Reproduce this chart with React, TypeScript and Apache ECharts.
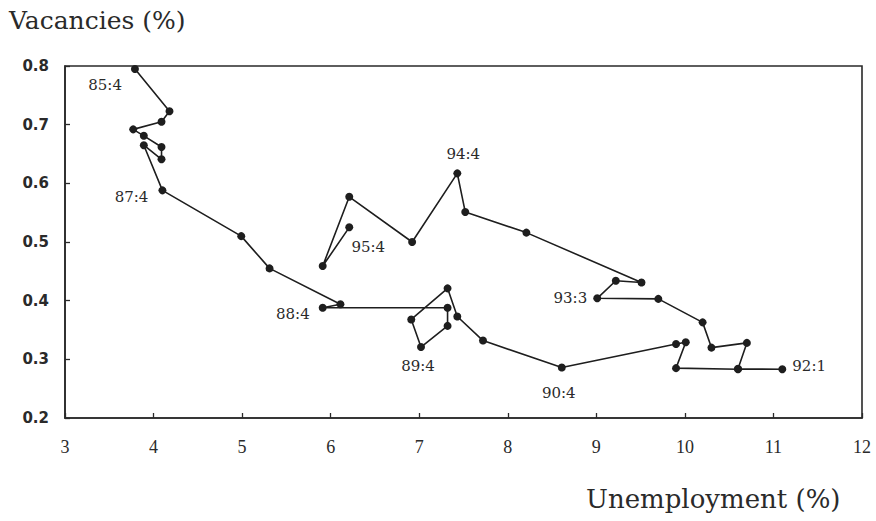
import React, { useEffect, useRef } from "react";
import * as echarts from "echarts";

// Unemployment (%) and vacancies (%) along the quarterly path, 85:4 -> 95:4
const unemployment = [
  3.79, 4.18, 4.09, 3.77, 3.89, 4.09, 4.09, 3.89, 4.10,
  4.99, 5.31, 6.11, 5.91,
  7.32, 7.32, 7.02, 6.91, 7.32, 7.43, 7.72, 8.61,
  9.90, 10.01, 9.90, 10.60, 11.10, 10.60, 10.70, 10.30, 10.20, 9.70, 9.01,
  9.22, 9.51, 8.21, 7.52, 7.43,
  6.92, 6.21, 5.91, 6.21,
];
const vacancies = [
  0.795, 0.723, 0.705, 0.692, 0.681, 0.662, 0.641, 0.665, 0.588,
  0.510, 0.455, 0.394, 0.388,
  0.388, 0.357, 0.321, 0.368, 0.421, 0.373, 0.332, 0.286,
  0.326, 0.329, 0.285, 0.283, 0.283, 0.284, 0.328, 0.320, 0.363, 0.403, 0.404,
  0.434, 0.431, 0.516, 0.551, 0.617,
  0.500, 0.577, 0.459, 0.525,
];
// quarter labels shown next to some points ('' = no label)
const pointLabels = [
  "85:4", "", "", "", "", "", "", "", "87:4",
  "", "", "", "88:4",
  "", "", "89:4", "", "", "", "", "90:4",
  "", "", "", "", "92:1", "", "", "", "", "", "93:3",
  "", "", "", "", "94:4",
  "", "", "", "95:4",
];
const xTicks = { min: 3, max: 12, interval: 1 };
const yTicks = { min: 0.2, max: 0.8, interval: 0.1 };

const labelStyle: Record<string, { position: string; distance: number; dx: number; dy: number }> = {
  "85:4": { position: "left", distance: 9, dx: 0, dy: 16 },
  "87:4": { position: "left", distance: 10, dx: 0, dy: 7 },
  "88:4": { position: "left", distance: 9, dx: 0, dy: 6 },
  "89:4": { position: "bottom", distance: 7, dx: -3, dy: 0 },
  "90:4": { position: "bottom", distance: 14, dx: -3, dy: 0 },
  "92:1": { position: "right", distance: 6, dx: 0, dy: -3 },
  "93:3": { position: "left", distance: 6, dx: 0, dy: 0 },
  "94:4": { position: "top", distance: 8, dx: 6, dy: 0 },
  "95:4": { position: "bottom", distance: 8, dx: 19, dy: 0 },
};

const serif = "DejaVu Serif";
const ink = "#1e1e1e";

export default function App() {
  const ref = useRef<HTMLDivElement>(null);
  useEffect(() => {
    if (!ref.current) return;
    const chart = echarts.init(ref.current, undefined, { renderer: "svg" });
    const data = unemployment.map((u, i) => {
      const name = pointLabels[i];
      const item: any = { value: [u, vacancies[i]] };
      if (name) {
        const s = labelStyle[name];
        item.label = {
          show: true,
          formatter: name,
          fontFamily: serif,
          fontSize: 15,
          color: "#2a2a2a",
          position: s.position,
          distance: s.distance,
        };
      }
      return item;
    });
    chart.setOption({
      animation: false,
      backgroundColor: "#ffffff",
      title: [
        {
          text: "Vacancies (%)",
          left: 9,
          top: 8,
          padding: 0,
          textStyle: { fontFamily: serif, fontSize: 25, fontWeight: "normal", color: "#2a2a2a" },
        },
        {
          text: "Unemployment (%)",
          left: 586,
          top: 486,
          padding: 0,
          textStyle: { fontFamily: serif, fontSize: 26, fontWeight: "normal", color: "#2a2a2a" },
        },
      ],
      grid: {
        left: 65,
        right: 14,
        top: 66,
        bottom: 103,
        show: true,
        borderColor: "#2a2a2a",
        borderWidth: 1.6,
        backgroundColor: "transparent",
      },
      xAxis: {
        type: "value",
        min: xTicks.min,
        max: xTicks.max,
        interval: xTicks.interval,
        axisLine: { show: true, onZero: false, lineStyle: { color: "#2a2a2a", width: 1.6 } },
        axisTick: { show: true, inside: true, length: 5, lineStyle: { color: "#2a2a2a", width: 1.3 } },
        splitLine: { show: false },
        axisLabel: {
          margin: 20,
          fontFamily: "Liberation Serif",
          fontSize: 18,
          color: "#2a2a2a",
          showMinLabel: true,
          showMaxLabel: true,
        },
      },
      yAxis: {
        type: "value",
        min: yTicks.min,
        max: yTicks.max,
        interval: yTicks.interval,
        axisLine: { show: true, lineStyle: { color: "#2a2a2a", width: 1.6 } },
        axisTick: { show: true, inside: true, length: 5, lineStyle: { color: "#2a2a2a", width: 1.3 } },
        splitLine: { show: false },
        axisLabel: {
          margin: 16,
          fontFamily: "DejaVu Sans",
          fontWeight: "bold",
          fontSize: 15,
          color: "#2a2a2a",
          formatter: (v: number) => v.toFixed(1),
        },
      },
      series: [
        {
          type: "line",
          data,
          symbol: "circle",
          symbolSize: 8,
          showAllSymbol: true,
          itemStyle: { color: ink },
          lineStyle: { color: ink, width: 1.6 },
          label: { show: false },
          labelLayout: (params: any) => {
            const name = pointLabels[params.dataIndex];
            const s = name ? labelStyle[name] : null;
            return s ? { dx: s.dx, dy: s.dy, hideOverlap: false } : { hideOverlap: false };
          },
          emphasis: { disabled: true },
        },
      ],
    });
    return () => chart.dispose();
  }, []);
  return (
    <div
      ref={ref}
      style={{ position: "fixed", left: 0, top: 0, width: 876, height: 521, background: "#fff" }}
    />
  );
}
